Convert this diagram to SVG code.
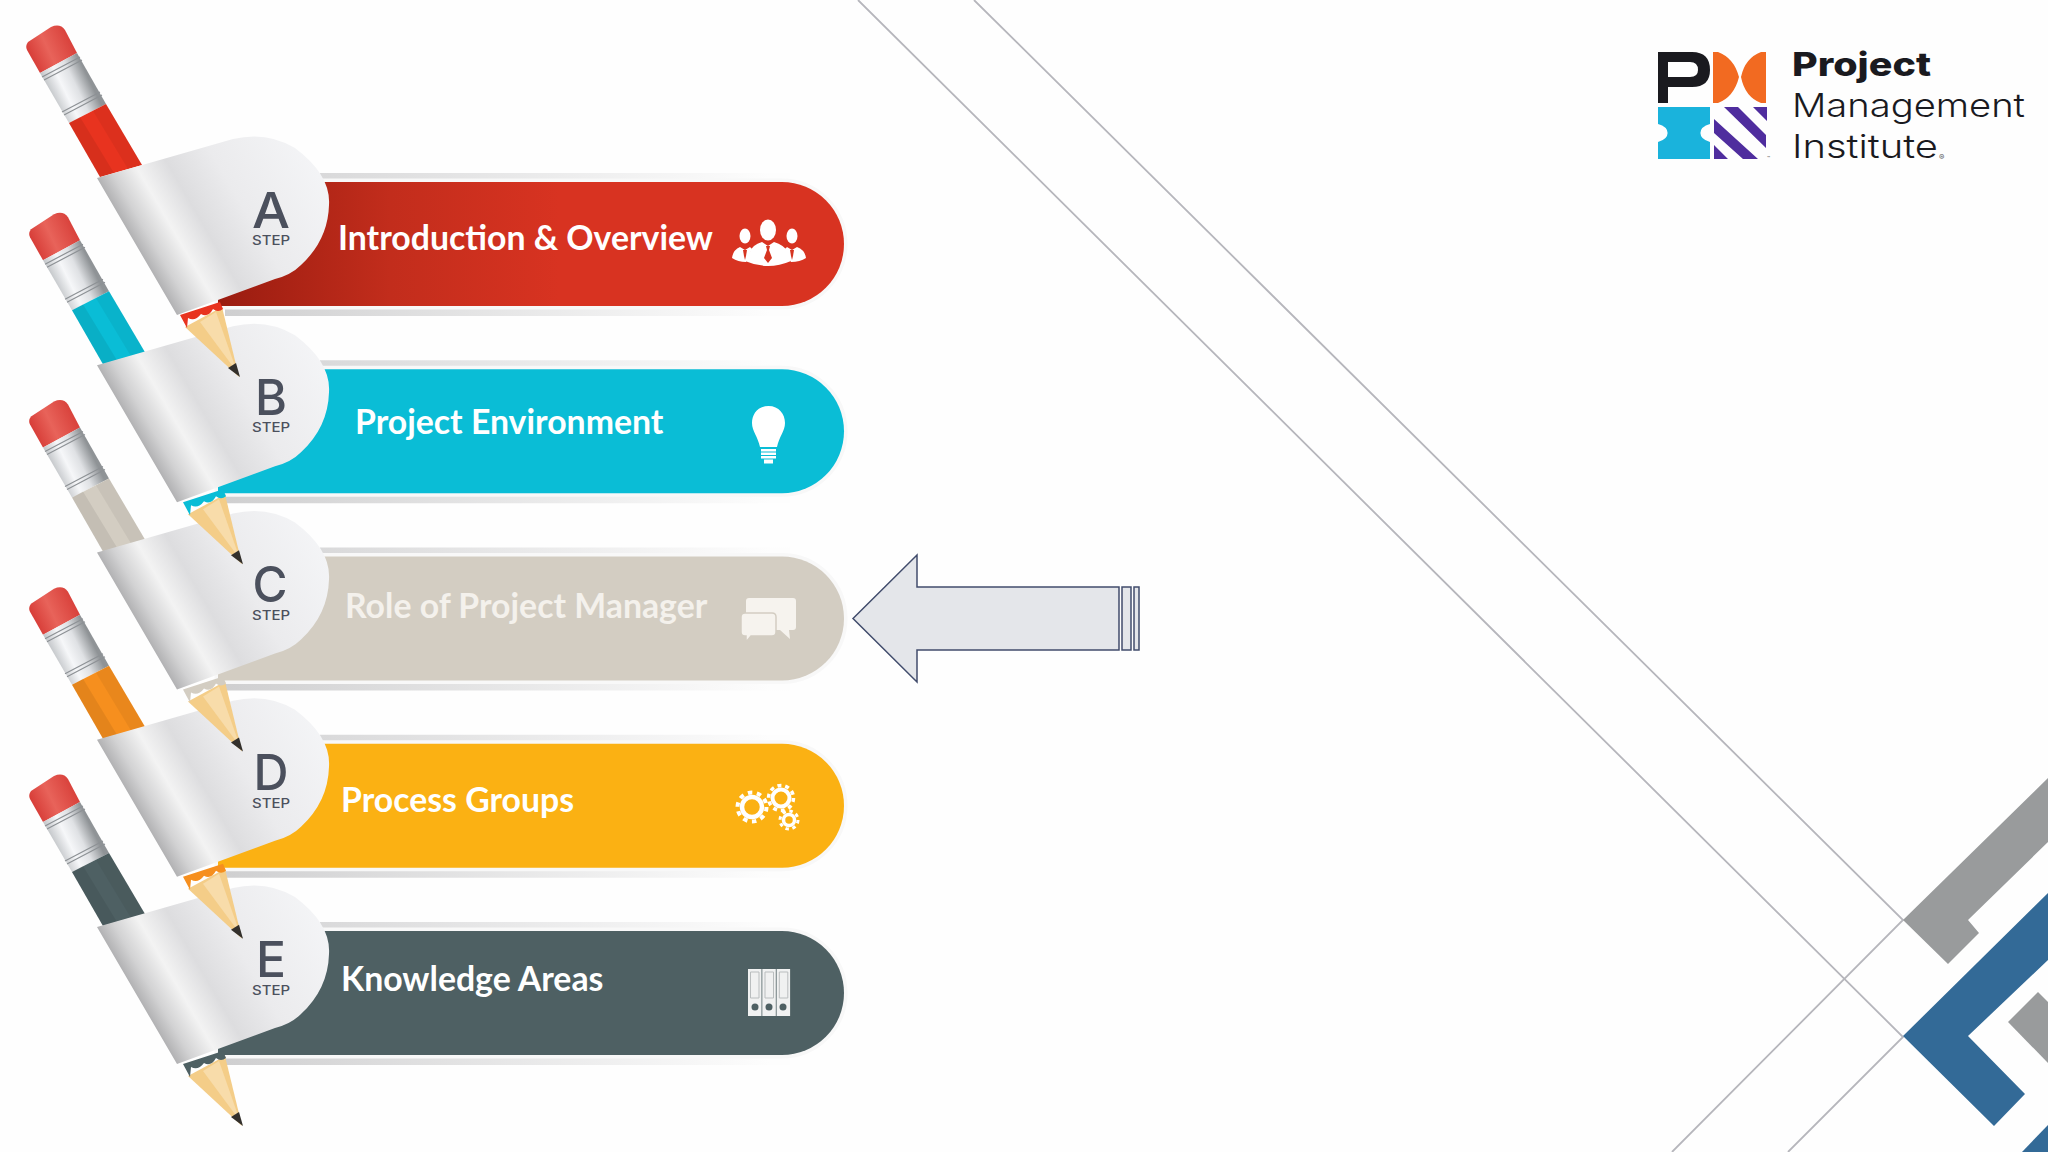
<svg xmlns="http://www.w3.org/2000/svg" width="2048" height="1152" viewBox="0 0 2048 1152">
<style>
.lbl{font-family:"Lato","Open Sans",sans-serif;font-weight:700;font-size:33.8px;fill:#fff}
.ltr{font-family:"Inter","Open Sans",sans-serif;font-weight:500;font-size:50px;fill:#4b505d;text-anchor:middle}
.stp{font-family:"Inter","Open Sans",sans-serif;font-weight:500;font-size:13px;fill:#4b505d;text-anchor:middle}
.ln{stroke:#b6b6bc;stroke-width:1.800;fill:none}
.gr{fill:#999b9c}.bl{fill:#336a97}
.logo{font-family:"Inter","Open Sans",sans-serif;fill:#1a1a1f;font-size:33px}
.ic{fill:#fff}
</style>
<defs>
<linearGradient id="tagG" gradientUnits="userSpaceOnUse" x1="100" y1="200" x2="307" y2="79">
<stop offset="0" stop-color="#a0a0a2"/><stop offset=".1" stop-color="#d2d2d3"/><stop offset=".2" stop-color="#f3f3f3"/><stop offset=".32" stop-color="#dddddf"/><stop offset=".5" stop-color="#ebebed"/><stop offset="1" stop-color="#f7f8fa"/>
</linearGradient>
<linearGradient id="ferG" gradientUnits="userSpaceOnUse" x1="41" y1="75" x2="78" y2="57">
<stop offset="0" stop-color="#c2c5c8"/><stop offset=".35" stop-color="#f6f7f9"/><stop offset=".65" stop-color="#dfe1e4"/><stop offset="1" stop-color="#8f9396"/>
</linearGradient>
<linearGradient id="eraG" gradientUnits="userSpaceOnUse" x1="30" y1="60" x2="72" y2="40">
<stop offset="0" stop-color="#d63a35"/><stop offset=".45" stop-color="#e8635a"/><stop offset="1" stop-color="#d8403a"/>
</linearGradient>
<linearGradient id="redG" gradientUnits="userSpaceOnUse" x1="220" y1="0" x2="560" y2="0">
<stop offset="0" stop-color="#9a1c10"/><stop offset=".5" stop-color="#c22d1c"/><stop offset="1" stop-color="#d83321"/>
</linearGradient>
<linearGradient id="topB" gradientUnits="userSpaceOnUse" x1="320" y1="0" x2="770" y2="0">
<stop offset="0" stop-color="#d9d9da"/><stop offset="1" stop-color="#fdfdfd"/>
</linearGradient>
<linearGradient id="botB" gradientUnits="userSpaceOnUse" x1="225" y1="0" x2="770" y2="0">
<stop offset="0" stop-color="#cfcfd0"/><stop offset="1" stop-color="#fdfdfd"/>
</linearGradient>
<path id="bar" d="M218 182H782A62 62 0 0 1 782 306H218Z"/>
<g id="band">
<path d="M320 173H790V190H320Z" fill="url(#topB)"/>
<path d="M225 298H790V316H225Z" fill="url(#botB)"/>
<use href="#bar" fill="none" stroke="#f8f8f8" stroke-width="7"/>
</g>
<g id="pencilTop">
<path d="M28 42L51 27Q60 23 65 30L77 53L40 73L27 50Q25 46 28 42Z" fill="url(#eraG)"/>
<path d="M40 73L77 53L106 104L69 123Z" fill="url(#ferG)"/>
<path d="M42 77L80 57M44 80L82 60M62 112L100 92M64 115L102 95" stroke="#8d9195" stroke-width="1.200" fill="none"/>
<path d="M69 123L106 104L142 165L100 177Z" fill="currentColor"/>
<path d="M69 123L80 117L114 173L100 177Z" fill="#000" opacity=".07"/>
<path d="M93 111L106 104L142 165L128 169Z" fill="#000" opacity=".05"/>
</g>
<g id="pencilTip">
<path d="M185 327L222 307L239 377Z" fill="#f4cd88"/>
<path d="M200 322L216 312L237 372Z" fill="#f8dcaa"/>
<path d="M180 315L220 302L223 309Q218 313 213 309Q208 318 201 314Q195 322 188 318L187 328Z" fill="currentColor"/>
<path d="M228 368L236 363L240 377Z" fill="#33302c"/>
</g>
<path id="tag" d="M97 178L233 139Q267 131 295 148Q331 175 329 205Q328 240 301 265Q291 275 275 279L177 315Z" fill="url(#tagG)"/>
</defs>

<rect width="2048" height="1152" fill="#fefefe"/>

<g id="background">
<path class="ln" d="M858 0L1903 1037L1788 1152"/>
<path class="ln" d="M974 0L1903 920L1672 1152"/>
<path class="gr" d="M1903 920L2048 778V842L1968 920L1979 933L1948 964Z"/>
<path class="bl" d="M1903 1036L2048 893V960L1968 1036L2025 1094L1994 1126Z"/>
<path class="gr" d="M2008 1022L2038 992L2048 1002V1063Z"/>
<path class="bl" d="M2022 1152L2048 1125V1152Z"/>
</g>

<g id="step-e" style="color:#4e6063">
<g transform="translate(0 749)"><use href="#band"/><use href="#bar" fill="#4e6063"/><g transform="translate(3 0)"><use href="#pencilTop"/><use href="#pencilTip"/></g><use href="#tag"/></g>
<text class="ltr" x="271" y="977" textLength="30" lengthAdjust="spacingAndGlyphs">E</text><text class="stp" x="271" y="995" textLength="38" lengthAdjust="spacingAndGlyphs">STEP</text>
<text class="lbl" x="341" y="991">Knowledge Areas</text>
<g id="icon-binders">
<rect x="748" y="969" width="13.500" height="47" fill="#f0f1f1"/><rect x="762.300" y="969" width="13.500" height="47" fill="#f0f1f1"/><rect x="776.600" y="969" width="13.500" height="47" fill="#f0f1f1"/>
<path d="M750.500 972h8.500v26h-8.500zM765 972h8.500v26H765zM779.300 972h8.500v26h-8.500z" fill="none" stroke="#b9bdbe" stroke-width="1"/>
<circle cx="755" cy="1007" r="3.500" fill="#4e6063"/><circle cx="769" cy="1007" r="3.500" fill="#4e6063"/><circle cx="783" cy="1007" r="3.500" fill="#4e6063"/>
</g>
</g>

<g id="step-d" style="color:#f68f1e">
<g transform="translate(0 561.750)"><use href="#band"/><use href="#bar" fill="#fbb113"/><g transform="translate(3 0)"><use href="#pencilTop"/><use href="#pencilTip"/></g><use href="#tag"/></g>
<text class="ltr" x="271" y="790" textLength="35" lengthAdjust="spacingAndGlyphs">D</text><text class="stp" x="271" y="808" textLength="38" lengthAdjust="spacingAndGlyphs">STEP</text>
<text class="lbl" x="341" y="812">Process Groups</text>
<g id="icon-gears" fill="none" stroke="#fff">
<circle cx="752" cy="807" r="10" stroke-width="4.500"/><circle cx="752" cy="807" r="14.500" stroke-width="4" stroke-dasharray="4.500 4.600"/>
<circle cx="781" cy="798" r="8.500" stroke-width="4"/><circle cx="781" cy="798" r="12.500" stroke-width="3.500" stroke-dasharray="4 3.850"/>
<circle cx="789" cy="820" r="5.500" stroke-width="3.500"/><circle cx="789" cy="820" r="9" stroke-width="3" stroke-dasharray="3.500 3.570"/>
</g>
</g>

<g id="step-c" style="color:#d3cdc2">
<g transform="translate(0 374.500)"><use href="#band"/><use href="#bar" fill="#d3cdc2"/><g transform="translate(3 0)"><use href="#pencilTop"/><use href="#pencilTip"/></g><use href="#tag"/></g>
<text class="ltr" x="270" y="602" textLength="35" lengthAdjust="spacingAndGlyphs">C</text><text class="stp" x="271" y="620" textLength="38" lengthAdjust="spacingAndGlyphs">STEP</text>
<text class="lbl" x="345" y="618" style="fill:#f4f1ec">Role of Project Manager</text>
<g id="icon-chat" fill="#f6f3ee">
<path d="M749 598H793Q796 598 796 601V627Q796 630 793 630H789L790 639L780 630H749Q746 630 746 627V601Q746 598 749 598Z"/>
<path d="M745 613H772Q776 613 776 617V632Q776 636 772 636H751L746 642L746 636H745Q741 636 741 632V617Q741 613 745 613Z" stroke="#d3cdc2" stroke-width="1.500"/>
</g>
</g>

<g id="step-b" style="color:#0abdd6">
<g transform="translate(0 187.250)"><use href="#band"/><use href="#bar" fill="#0abdd6"/><g transform="translate(3 0)"><use href="#pencilTop"/><use href="#pencilTip"/></g><use href="#tag"/></g>
<text class="ltr" x="271" y="415" textLength="32" lengthAdjust="spacingAndGlyphs">B</text><text class="stp" x="271" y="432" textLength="38" lengthAdjust="spacingAndGlyphs">STEP</text>
<text class="lbl" x="355" y="434">Project Environment</text>
<g id="icon-bulb" class="ic">
<path d="M768.500 406C758 406 752 414 752 423C752 431 758 437 760 447H777C779 437 785 431 785 423C785 414 779 406 768.500 406Z"/>
<path d="M761 449h15v2.500h-15zM761 452.500h15v2.500h-15zM761 456h15v2.500h-15zM764 459.500h9v4h-9z"/>
</g>
</g>

<g id="step-a" style="color:#e8331f">
<use href="#band"/><use href="#bar" fill="url(#redG)"/><use href="#pencilTop"/><use href="#pencilTip"/><use href="#tag"/>
<text class="ltr" x="271" y="228" textLength="38" lengthAdjust="spacingAndGlyphs">A</text><text class="stp" x="271" y="245" textLength="38" lengthAdjust="spacingAndGlyphs">STEP</text>
<text class="lbl" x="338" y="250">Introduction &amp; Overview</text>
<g id="icon-people">
<ellipse class="ic" cx="768" cy="230" rx="8" ry="10.500"/>
<path class="ic" d="M750 252Q752 245 762 242L768 246L774 242Q784 245 788 252L791 261Q768 271 745 261Z"/>
<path d="M766 246H770L769 250L772 258L768 263L764 258L767 250Z" fill="#d63420"/>
<ellipse class="ic" cx="745" cy="236" rx="5.500" ry="7.500"/>
<path class="ic" d="M732 258Q733 250 740 247L745 250L750 247L752 249L746 262Q738 262 732 258Z"/>
<path d="M743 250H747L746 256L745 260L744 256Z" fill="#d63420"/>
<ellipse class="ic" cx="792" cy="236" rx="5.500" ry="7.500"/>
<path class="ic" d="M806 258Q805 250 797 247L792 250L787 247L785 249L791 262Q800 262 806 258Z"/>
<path d="M790 250H794L793 256L792 260L791 256Z" fill="#d63420"/>
</g>
</g>

<g id="arrow" fill="#e4e6ea" stroke="#414c6c" stroke-width="1.500">
<path d="M853 618.500L917 555V587H1119V650H917V682Z"/>
<rect x="1122" y="587" width="9" height="63"/>
<rect x="1134" y="587" width="5" height="63"/>
</g>

<g id="logo">
<path d="M1658 52H1692Q1710 52 1710 70Q1710 87 1692 87H1668V103H1658ZM1668 62V77H1690Q1698 77 1698 70Q1698 62 1690 62Z" fill="#1a1a1f" fill-rule="evenodd"/>
<path d="M1713 52H1718Q1734 58 1739 77Q1734 97 1718 103H1713ZM1766 52H1761Q1745 58 1741 77Q1745 97 1761 103H1766Z" fill="#f26a21"/>
<path d="M1658 107H1710V124A17 10 0 0 0 1710 142V159H1658V142A17 10 0 0 0 1658 124Z" fill="#1ab3dc"/>
<path d="M1753 107H1767V121ZM1724 107H1738L1766 135V148ZM1714 119L1758 159H1743L1714 133ZM1714 145L1728 159H1714Z" fill="#4f2d9e"/>
<text x="1767" y="160" style="font-family:'Inter',sans-serif;font-size:5px;fill:#555">™</text>
<text class="logo" x="1792" y="76" font-weight="800" textLength="139" lengthAdjust="spacingAndGlyphs">Project</text>
<text class="logo" x="1792" y="117" font-weight="300" textLength="233" lengthAdjust="spacingAndGlyphs">Management</text>
<text class="logo" x="1792" y="158" font-weight="300" textLength="146" lengthAdjust="spacingAndGlyphs">Institute</text>
<text x="1939" y="160" style="font-family:'Inter',sans-serif;font-size:8px;fill:#555">®</text>
</g>
</svg>
